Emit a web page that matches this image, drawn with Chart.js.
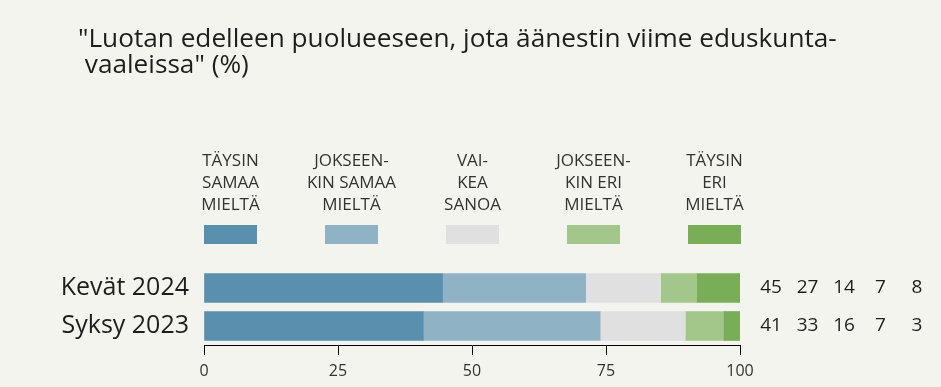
<!DOCTYPE html>
<html>
<head>
<meta charset="utf-8">
<script src="https://cdn.jsdelivr.net/npm/chart.js@4.4.1/dist/chart.umd.min.js"></script>
<style>
  html, body { margin: 0; padding: 0; background: #f4f4ef; }
  #wrap { width: 941px; height: 387px; }
</style>
</head>
<body>
<div id="wrap"><canvas id="c" width="941" height="387"></canvas></div>
<script>
// ---- data ----
const titleLines = ['"Luotan edelleen puolueeseen, jota äänestin viime eduskunta-', ' vaaleissa" (%)'];
const categories = ['Kevät 2024', 'Syksy 2023'];
const seriesLabels = [
  ['TÄYSIN', 'SAMAA', 'MIELTÄ'],
  ['JOKSEEN-', 'KIN SAMAA', 'MIELTÄ'],
  ['VAI-', 'KEA', 'SANOA'],
  ['JOKSEEN-', 'KIN ERI', 'MIELTÄ'],
  ['TÄYSIN', 'ERI', 'MIELTÄ']
];
const taysinSamaa     = [44.5, 40.9];
const jokseenkinSamaa = [26.7, 33.0];
const vaikeaSanoa     = [14.0, 15.9];
const jokseenkinEri   = [6.7, 7.1];
const taysinEri       = [8.1, 3.1];
const xTickValues = [0, 25, 50, 75, 100];
const seriesColors = ['#5a8fad', '#8fb2c4', '#e0e0e0', '#a3c68a', '#7aad57'];

const seriesValues = [taysinSamaa, jokseenkinSamaa, vaikeaSanoa, jokseenkinEri, taysinEri];
const FONT = '"Open Sans", "Noto Sans", sans-serif';

const bgPlugin = {
  id: 'bg',
  beforeDraw(chart) {
    const ctx = chart.ctx;
    ctx.save();
    ctx.fillStyle = '#f4f4ef';
    ctx.fillRect(0, 0, chart.width, chart.height);
    ctx.restore();
  }
};

const decorPlugin = {
  id: 'decor',
  afterDraw(chart) {
    const ctx = chart.ctx;
    const area = chart.chartArea;
    ctx.save();
    // title
    ctx.fillStyle = '#1e1e1e';
    ctx.font = '26.2px ' + FONT;
    ctx.textAlign = 'left';
    ctx.textBaseline = 'alphabetic';
    ctx.fillText(titleLines[0], 78, 47);
    ctx.fillText(titleLines[1], 78, 73);

    // legend
    ctx.font = '17px ' + FONT;
    ctx.textAlign = 'center';
    seriesLabels.forEach((lines, i) => {
      const cx = area.left + 26.5 + i * 121;
      ctx.fillStyle = '#333333';
      lines.forEach((ln, j) => ctx.fillText(ln, cx, 166 + j * 22.2));
      ctx.fillStyle = seriesColors[i];
      ctx.fillRect(cx - 26.5, 225, 53, 19);
    });

    // value columns
    const yScale = chart.scales.y;
    ctx.font = '19px ' + FONT;
    ctx.fillStyle = '#1e1e1e';
    categories.forEach((cat, r) => {
      const cy = yScale.getPixelForValue(r);
      seriesValues.forEach((vals, i) => {
        ctx.fillText(String(Math.round(vals[r])), area.right + 31 + i * 36.5, cy + 4.5);
      });
    });
    ctx.restore();
  }
};

new Chart(document.getElementById('c'), {
  type: 'bar',
  data: {
    labels: categories,
    datasets: seriesValues.map((vals, i) => ({
      label: seriesLabels[i].join(' '),
      data: vals,
      backgroundColor: seriesColors[i],
      borderWidth: 0,
      barThickness: 29
    }))
  },
  options: {
    indexAxis: 'y',
    responsive: false,
    animation: false,
    layout: { padding: { left: 0, right: 201, top: 269, bottom: 0 } },
    plugins: {
      legend: { display: false },
      title: { display: false },
      tooltip: { enabled: false }
    },
    scales: {
      x: {
        type: 'linear',
        stacked: true,
        min: 0,
        max: 100,
        afterBuildTicks(scale) { scale.ticks = xTickValues.map(v => ({ value: v })); },
        afterFit(scale) { scale.height = 42; },
        grid: { drawOnChartArea: false, drawTicks: true, tickLength: 10, color: '#000', lineWidth: 1 },
        border: { display: true, color: '#000', width: 1 },
        ticks: { font: { family: FONT, size: 16 }, color: '#333', padding: 7, maxRotation: 0 }
      },
      y: {
        type: 'category',
        stacked: true,
        afterFit(scale) { scale.width = 204; },
        grid: { display: false, drawTicks: false },
        border: { display: false },
        ticks: { font: { family: FONT, size: 25 }, color: '#1e1e1e', padding: 15 }
      }
    }
  },
  plugins: [bgPlugin, decorPlugin]
});
</script>
</body>
</html>
